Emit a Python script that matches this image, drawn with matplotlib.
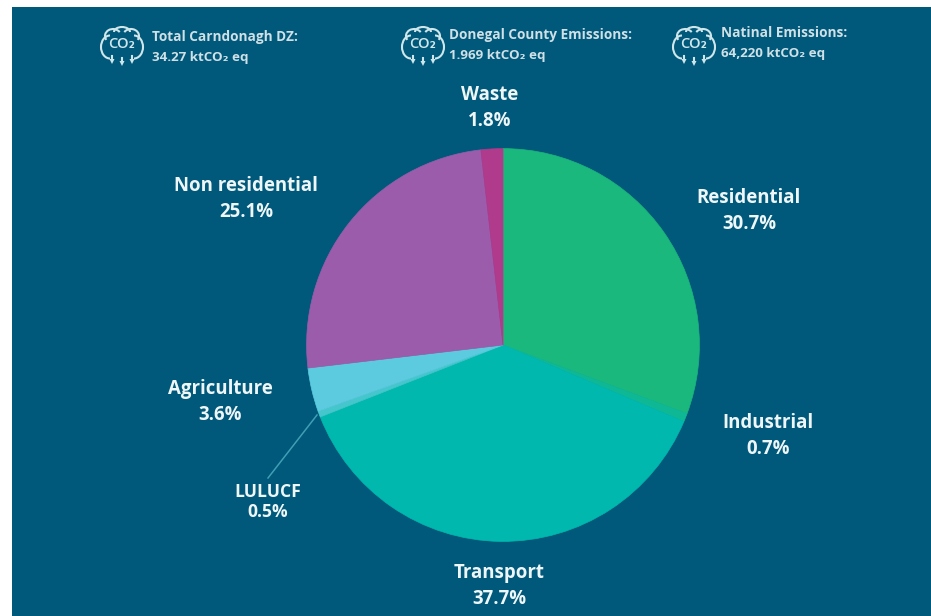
import matplotlib
matplotlib.use("Agg")
import matplotlib.pyplot as plt
from matplotlib.patches import Arc, Rectangle, Polygon

categories = ["Residential", "Industrial", "Transport", "LULUCF", "Agriculture", "Non residential", "Waste"]
values = [30.7, 0.7, 37.7, 0.5, 3.6, 25.1, 1.8]
colors = ["#1ab87c", "#0fb894", "#00b8ae", "#45c6cc", "#5ccbe0", "#9a5cab", "#b03a8c"]
bg = "#00587a"
text_col = "#eef6f8"
sub_col = "#cfe0e6"

# label centres in pixels
label_pos = {
    "Residential": (749, 211),
    "Industrial": (768, 436),
    "Transport": (499, 586),
    "LULUCF": (268, 502),
    "Agriculture": (220, 402),
    "Non residential": (246, 199),
    "Waste": (490, 108.5),
}
headers = [
    (122, 152, "Total Carndonagh DZ:", "34.27 ktCO", "\u2082 eq", 37),
    (423, 449, "Donegal County Emissions:", "1.969 ktCO", "\u2082 eq", 35),
    (694, 721, "Natinal Emissions:", "64,220 ktCO", "\u2082 eq", 33),
]

W, H = 931, 616
fig = plt.figure(figsize=(W / 100, H / 100), dpi=100, facecolor="white")
plt.rcParams["font.family"] = ["Open Sans", "DejaVu Sans"]

# pixel coordinate overlay, y going down
bgax = fig.add_axes([0, 0, 1, 1], zorder=0)
bgax.set_xlim(0, W)
bgax.set_ylim(H, 0)
bgax.axis("off")
bgax.add_patch(Rectangle((12, 7), W - 12, H - 7, color=bg, lw=0))

# pie is 394 px across, centred at 503,345
ax = fig.add_axes([(503 - 197) / W, 1 - (345 + 197) / H, 394 / W, 394 / H], zorder=1)
wedges, _ = ax.pie(values, colors=colors, startangle=90, counterclock=False, radius=0.997)
for w, c in zip(wedges, colors):
    w.set_edgecolor(c)
    w.set_linewidth(0.5)
ax.set_xlim(-1, 1)
ax.set_ylim(-1, 1)

ov = fig.add_axes([0, 0, 1, 1], zorder=2)
ov.set_xlim(0, W)
ov.set_ylim(H, 0)
ov.axis("off")
ov.patch.set_alpha(0)

for name, val in zip(categories, values):
    x, y = label_pos[name]
    size = 12.6 if name == "LULUCF" else 13.4
    spacing = 1.15 if name == "LULUCF" else 1.4
    ov.text(x, y, f"{name}\n{val}%", color=text_col, fontsize=size, fontweight="bold",
            ha="center", va="center", linespacing=spacing)

# LULUCF leader line
ov.plot([268, 317], [478, 415], color="#3f9fb4", lw=1.1)


def co2_icon(a, cx, cy):
    col = "#cfe6ea"
    arcs = [(-12, 3, 18, 23, 90, 270), (12, 3, 18, 23, -90, 90),
            (-9, -8, 16, 14, 150, 330), (9, -8, 16, 14, 210, 30), (0, -12, 16, 10, 180, 360)]
    for dx, dy, w, h, t1, t2 in arcs:
        if t1 > t2:
            t2 += 360
        a.add_patch(Arc((cx + dx, cy + dy), w, h, theta1=t1, theta2=t2, color=col, lw=1.5))
    a.text(cx, cy + 0.5, "CO\u2082", color=col, fontsize=10.5, fontweight="semibold", ha="center", va="center")
    for dx, top in [(-10, 12), (0, 14), (10, 12)]:
        a.add_patch(Polygon([(cx + dx - 2.5, cy + top + 3), (cx + dx + 2.5, cy + top + 3),
                             (cx + dx, cy + top + 8)], color=col, lw=0))
        a.plot([cx + dx, cx + dx], [cy + top, cy + top + 4], color=col, lw=1.5)


for ix, tx, line1, line2, tail, y1 in headers:
    co2_icon(ov, ix, 44)
    ov.text(tx, y1, line1, color=sub_col, fontsize=9.8, fontweight="bold", ha="left", va="center")
    ov.text(tx, y1 + 21, line2 + tail, color=sub_col, fontsize=9.6, fontweight="bold",
            ha="left", va="center")

fig.savefig("out.png", dpi=100, facecolor="white")
